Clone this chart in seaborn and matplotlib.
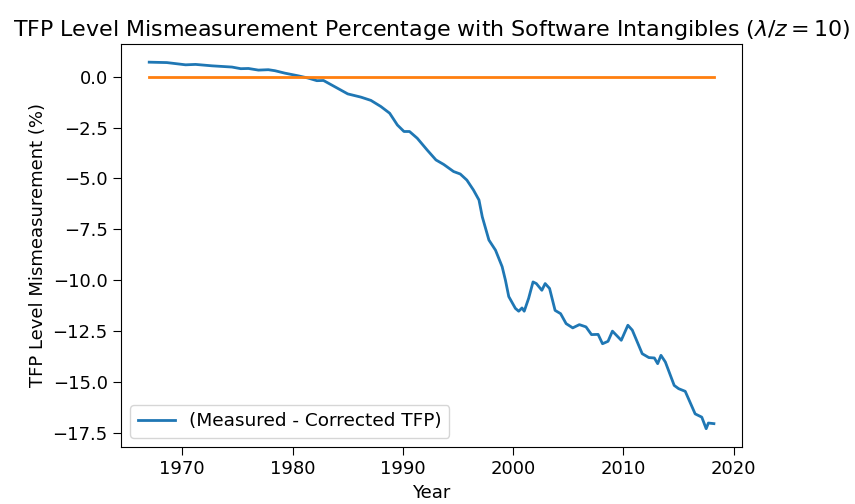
import matplotlib
matplotlib.use("Agg")
import matplotlib.pyplot as plt
import seaborn as sns
import pandas as pd

# values
years = [1967.0, 1968.6, 1970.3, 1971.2, 1972.7, 1974.5, 1975.3, 1976.0, 1976.9, 1977.8,
         1978.4, 1979.3, 1980.5, 1981.4, 1982.2, 1982.8, 1983.8, 1985.0, 1986.2, 1987.1,
         1988.0, 1988.8, 1989.5, 1990.1, 1990.6, 1991.3, 1992.2, 1993.0, 1993.7, 1994.6,
         1995.2, 1995.8, 1996.4, 1996.9, 1997.2, 1997.8, 1998.4, 1999.0, 1999.3, 1999.6,
         2000.2, 2000.5, 2000.8, 2001.0, 2001.4, 2001.8, 2002.1, 2002.6, 2002.9, 2003.3,
         2003.8, 2004.3, 2004.8, 2005.4, 2006.0, 2006.6, 2007.1, 2007.7, 2008.1, 2008.6,
         2009.0, 2009.8, 2010.4, 2010.8, 2011.7, 2012.3, 2012.8, 2013.1, 2013.4, 2013.8,
         2014.6, 2015.0, 2015.6, 2016.5, 2017.1, 2017.5, 2017.7, 2018.2]
mismeasurement = [0.72, 0.70, 0.59, 0.61, 0.54, 0.48, 0.40, 0.41, 0.33, 0.35,
                  0.30, 0.18, 0.05, -0.06, -0.19, -0.18, -0.48, -0.84, -1.00, -1.16,
                  -1.46, -1.79, -2.37, -2.69, -2.69, -3.02, -3.60, -4.09, -4.31, -4.66,
                  -4.78, -5.08, -5.57, -6.06, -6.89, -8.03, -8.53, -9.34, -10.01, -10.81,
                  -11.39, -11.53, -11.37, -11.53, -10.90, -10.09, -10.17, -10.50, -10.17, -10.41,
                  -11.49, -11.65, -12.14, -12.35, -12.19, -12.30, -12.68, -12.67, -13.13, -13.01,
                  -12.51, -12.96, -12.22, -12.46, -13.62, -13.81, -13.83, -14.11, -13.70, -14.03,
                  -15.18, -15.34, -15.47, -16.58, -16.74, -17.31, -17.03, -17.06]
zero_years = [1967.0, 2018.2]
zero_values = [0.0, 0.0]

df = pd.DataFrame({"Year": years, "gap": mismeasurement})
zero = pd.DataFrame({"Year": zero_years, "gap": zero_values})

fig = plt.figure(figsize=(8.55, 5.04), dpi=100)
ax = fig.add_axes([0.1415, 0.113, 0.7265, 0.8])

sns.lineplot(data=df, x="Year", y="gap", ax=ax, color="#1f77b4", linewidth=2,
             sort=False, estimator=None, label="(Measured - Corrected TFP)")
sns.lineplot(data=zero, x="Year", y="gap", ax=ax, color="#ff7f0e", linewidth=2,
             sort=False, estimator=None)

ax.set_title(r"TFP Level Mismeasurement Percentage with Software Intangibles ($\lambda/z = 10$)",
             fontsize=15.9)
ax.set_xlabel("Year", fontsize=13)
ax.set_ylabel("TFP Level Mismeasurement (%)", fontsize=13)
ax.tick_params(labelsize=13, length=6)
ax.legend(loc="lower left", fontsize=13.3)

fig.savefig("out.png", dpi=100)
